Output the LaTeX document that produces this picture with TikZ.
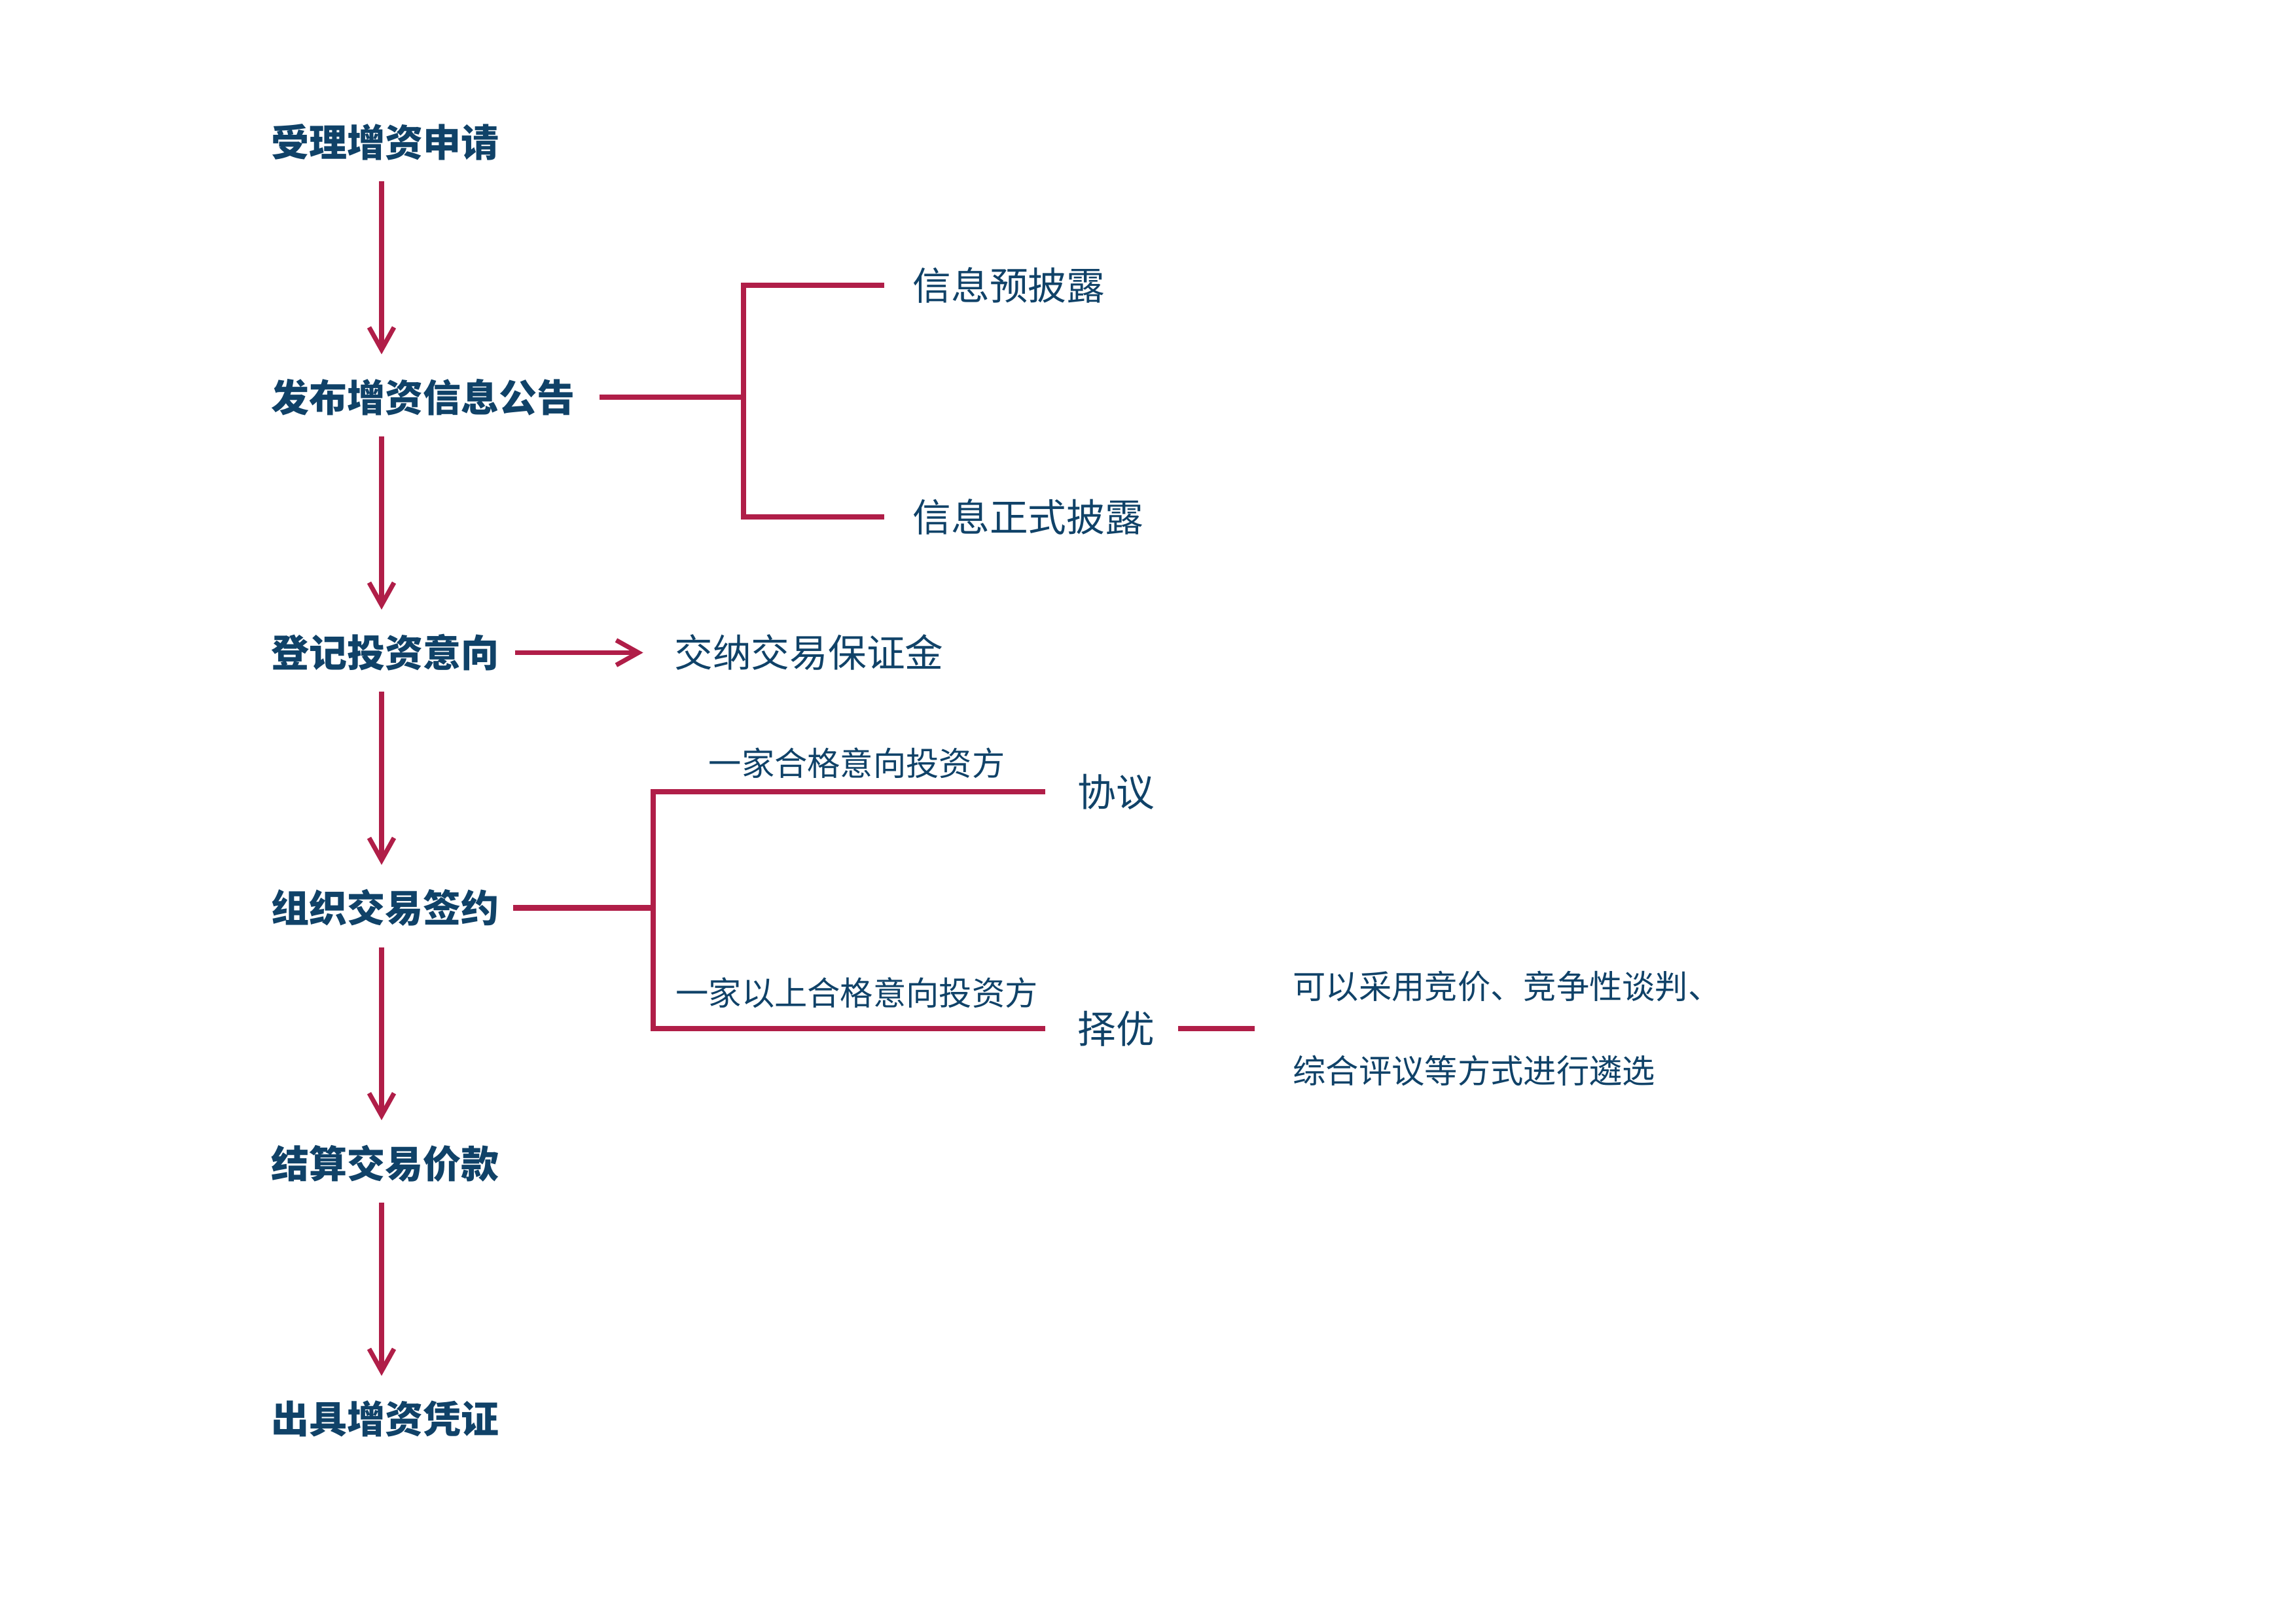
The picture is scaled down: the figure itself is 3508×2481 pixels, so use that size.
\documentclass[tikz,border=0pt]{standalone}
\usepackage{fontspec}
\usepackage{tikz}
\usetikzlibrary{arrows.meta,positioning}
\newfontfamily\cjk{Noto Sans CJK SC}
\definecolor{stepblue}{HTML}{104268}
\definecolor{linered}{HTML}{B01E48}

\begin{document}
\begin{tikzpicture}[x=0.01cm,y=-0.01cm,>={Straight Barb[length=3.4mm,width=3.8mm]},
  node distance=3.9cm,
  step node/.style={inner sep=0pt,anchor=west,text=stepblue,font=\cjk\bfseries\fontsize{16.5pt}{20pt}\selectfont},
  side node/.style={inner sep=0pt,anchor=west,text=stepblue,font=\cjk\fontsize{16.7pt}{20pt}\selectfont},
  small node/.style={inner sep=0pt,text=stepblue,font=\cjk\fontsize{14.3pt}{36.6pt}\selectfont},
  flow/.style={->,draw=linered,line width=2pt},
  branch/.style={draw=linered,line width=2.4pt}]

  \useasboundingbox (0,0) rectangle (3508,2481);

  \node[step node] (apply) at (414,217) {受理增资申请};
  \node[step node] (publish) [below=of apply.west,anchor=west] {发布增资信息公告};
  \node[step node] (register) [below=of publish.west,anchor=west] {登记投资意向};
  \node[step node] (sign) [below=of register.west,anchor=west] {组织交易签约};
  \node[step node] (settle) [below=of sign.west,anchor=west] {结算交易价款};
  \node[step node] (certify) [below=of settle.west,anchor=west] {出具增资凭证};

  \node[side node] (pre) at (1394,436) {信息预披露};
  \node[side node] (formal) at (1394,790) {信息正式披露};
  \node[side node] (deposit) [right=2.66cm of register.east] {交纳交易保证金};
  \node[side node] (agree) at (1646,1210) {协议};
  \node[side node] (optimal) at (1646,1572) {择优};
  \node[small node] (one) at (1309,1166) {一家合格意向投资方};
  \node[small node] (several) at (1309,1517) {一家以上合格意向投资方};
  \node[small node,align=left] (methods) [right=2.1cm of optimal.east]
    {可以采用竞价、竞争性谈判、\\综合评议等方式进行遴选};

  \coordinate (spine) at (583,0);
  \coordinate (col1) at (1136,0);
  \coordinate (col2) at (998,0);

  \foreach \a/\b in {apply/publish,publish/register,register/sign,sign/settle,settle/certify}
    \draw[flow,shorten <=0.31cm,shorten >=0.37cm] (\a.south -| spine) -- (\b.north -| spine);

  \draw[branch] ([xshift=0.36cm]publish.east) -- (col1 |- publish.east);
  \draw[branch] ([xshift=-0.43cm]pre.west) -| (col1 |- formal.west) -- ([xshift=-0.43cm]formal.west);

  \draw[flow] ([xshift=0.23cm]register.east) -- ([xshift=-0.47cm]deposit.west);

  \draw[branch] ([xshift=0.2cm]sign.east) -- (col2 |- sign.east);
  \draw[branch] ([xshift=-0.49cm]agree.west) -| (col2 |- optimal.west) -- ([xshift=-0.49cm]optimal.west);
  \draw[branch] ([xshift=0.35cm]optimal.east) -- ([xshift=-0.58cm]methods.west);
\end{tikzpicture}
\end{document}
